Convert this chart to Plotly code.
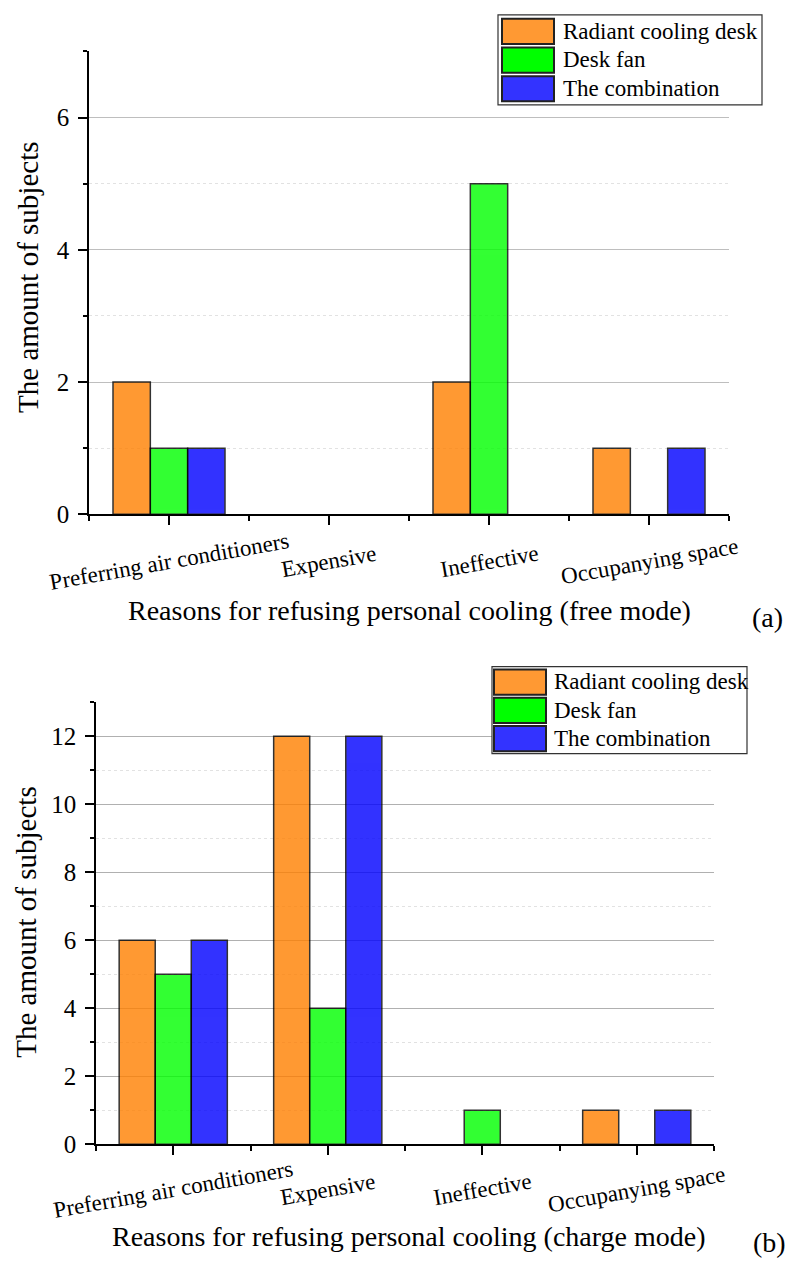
import plotly.graph_objects as go

# ---------------- data ----------------
categories = ["Preferring air conditioners", "Expensive", "Ineffective", "Occupanying space"]
series_names = ["Radiant cooling desk", "Desk fan", "The combination"]

free_radiant = [2, 0, 2, 1]
free_fan = [1, 0, 5, 0]
free_combo = [1, 0, 0, 1]

charge_radiant = [6, 12, 0, 1]
charge_fan = [5, 4, 1, 0]
charge_combo = [6, 12, 0, 1]

free_title = "Reasons for refusing personal cooling (free mode)"
charge_title = "Reasons for refusing personal cooling (charge mode)"
y_title = "The amount of subjects"

# ---------------- style ----------------
W, H = 787, 1273
FONT = "Liberation Serif, Times New Roman, serif"
colors = ["#FF8000", "#00FF00", "#0000FF"]
legend_colors = ["#FF9933", "#00FF00", "#3333FF"]


def px(x):
    return x / W


def py(y):
    return 1 - y / H


def nonzero(vals):
    # zero-height bars are not drawn in the reference
    return [v if v != 0 else None for v in vals]


xpos = list(range(len(categories)))

fig = go.Figure()

free_data = [free_radiant, free_fan, free_combo]
charge_data = [charge_radiant, charge_fan, charge_combo]

for name, vals, col in zip(series_names, free_data, colors):
    fig.add_trace(go.Bar(x=xpos, y=nonzero(vals), name=name, xaxis="x", yaxis="y",
                         marker=dict(color=col, line=dict(color="black", width=1.5)),
                         opacity=0.8, showlegend=False))
for name, vals, col in zip(series_names, charge_data, colors):
    fig.add_trace(go.Bar(x=xpos, y=nonzero(vals), name=name, xaxis="x2", yaxis="y2",
                         marker=dict(color=col, line=dict(color="black", width=1.5)),
                         opacity=0.8, showlegend=False))


def xaxis_cfg(domain, anchor):
    return dict(domain=domain, anchor=anchor, range=[-0.5, len(categories) - 0.5],
                tickmode="array", tickvals=xpos, showticklabels=False,
                ticks="outside", ticklen=9, tickwidth=1.5, tickcolor="black",
                showline=True, linecolor="black", linewidth=1.5,
                showgrid=False, zeroline=False,
                minor=dict(tickmode="linear", tick0=-0.5, dtick=1, ticks="outside",
                           ticklen=5, tickwidth=1.5, tickcolor="black", showgrid=False))


def yaxis_cfg(domain, anchor, ymax, gridcol):
    return dict(domain=domain, anchor=anchor, range=[0, ymax],
                tickmode="linear", tick0=0, dtick=2,
                ticks="outside", ticklen=9, tickwidth=1.5, tickcolor="black",
                tickfont=dict(family=FONT, size=25, color="black"),
                showline=True, linecolor="black", linewidth=1.5,
                showgrid=True, gridcolor=gridcol, gridwidth=1, zeroline=False,
                ticklabelstandoff=4,
                minor=dict(tickmode="linear", tick0=0, dtick=1, ticks="outside",
                           ticklen=4, tickwidth=1.5, tickcolor="black",
                           showgrid=True, gridcolor="#E2E2E2", griddash="dot", gridwidth=1))


fig.update_layout(
    width=W, height=H, autosize=False,
    margin=dict(l=0, r=0, t=0, b=0),
    paper_bgcolor="white", plot_bgcolor="white",
    barmode="group", bargap=0.3, bargroupgap=0,
    font=dict(family=FONT, color="black"),
    xaxis=xaxis_cfg([px(89), px(729)], "y"),
    yaxis=yaxis_cfg([py(520), py(52)], "x", 7, "#BEBEBE"),
    xaxis2=xaxis_cfg([px(96), px(714)], "y2"),
    yaxis2=yaxis_cfg([py(1157), py(710)], "x2", 13, "#B0B0B0"),
)

annotations = []
shapes = []

# rotated category labels
for xa, ycen in (("x", 568), ("x2", 1203)):
    for i, cat in enumerate(categories):
        annotations.append(dict(x=xpos[i], xref=xa, y=py(ycen), yref="paper",
                                text=cat, showarrow=False, textangle=-10,
                                xanchor="center", yanchor="middle",
                                font=dict(family=FONT, size=23, color="black")))

# axis titles
annotations.append(dict(x=px(409), y=py(617), xref="paper", yref="paper", text=free_title,
                        showarrow=False, xanchor="center", yanchor="middle",
                        font=dict(family=FONT, size=28, color="black")))
annotations.append(dict(x=px(409), y=py(1250), xref="paper", yref="paper", text=charge_title,
                        showarrow=False, xanchor="center", yanchor="middle",
                        font=dict(family=FONT, size=28, color="black")))
annotations.append(dict(x=px(28), y=py(281), xref="paper", yref="paper", text=y_title,
                        showarrow=False, textangle=-90, xanchor="center", yanchor="middle",
                        font=dict(family=FONT, size=29, color="black")))
annotations.append(dict(x=px(26), y=py(933), xref="paper", yref="paper", text=y_title,
                        showarrow=False, textangle=-90, xanchor="center", yanchor="middle",
                        font=dict(family=FONT, size=29, color="black")))
# panel labels
annotations.append(dict(x=px(750), y=py(624), xref="paper", yref="paper", text="(a)",
                        showarrow=False, xanchor="left", yanchor="middle",
                        font=dict(family=FONT, size=28, color="black")))
annotations.append(dict(x=px(751), y=py(1256), xref="paper", yref="paper", text="(b)",
                        showarrow=False, xanchor="left", yanchor="middle",
                        font=dict(family=FONT, size=28, color="black")))

# legends (box, swatches, labels)
for (bx0, by0, bx1, by1, sx0, sx1, tx, row0, pitch) in (
        (498, 15, 762, 106, 502, 554, 561, 19, 29),
        (492, 674, 747, 762, 494, 546, 552, 677, 28.5)):
    shapes.append(dict(type="rect", xref="paper", yref="paper",
                       x0=px(bx0), x1=px(bx1), y0=py(by1), y1=py(by0),
                       fillcolor="white", line=dict(color="#333333", width=1.2)))
    for k, (name, col) in enumerate(zip(series_names, legend_colors)):
        top = row0 + k * pitch
        shapes.append(dict(type="rect", xref="paper", yref="paper",
                           x0=px(sx0), x1=px(sx1), y0=py(top + 25.5), y1=py(top),
                           fillcolor=col, line=dict(color="#222222", width=2)))
        annotations.append(dict(x=px(tx), y=py(top + 12.5), xref="paper", yref="paper",
                                text=name, showarrow=False, xanchor="left", yanchor="middle",
                                font=dict(family=FONT, size=23, color="black")))

fig.update_layout(annotations=annotations, shapes=shapes)

fig.write_html("out.html")
